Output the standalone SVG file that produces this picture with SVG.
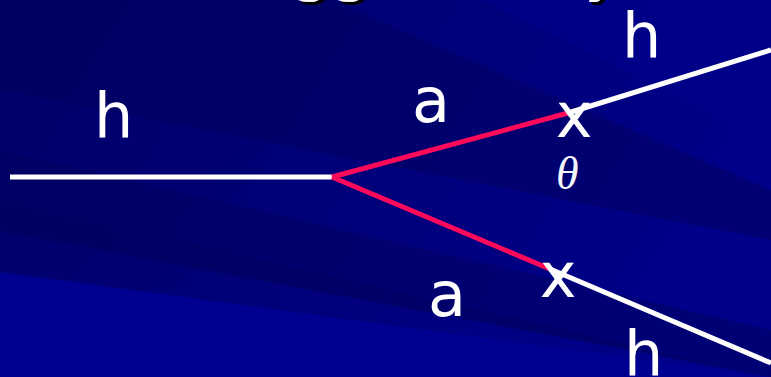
<svg xmlns="http://www.w3.org/2000/svg" width="771" height="377" viewBox="0 0 771 377">
<defs>
<style>
.lbl{font-family:"DejaVu Sans",Verdana,sans-serif;font-size:62px;fill:#ffffff}
.ttl{font-family:"DejaVu Sans",Verdana,sans-serif;font-size:63px;fill:#ffffff}
.th{font-family:"Liberation Serif","DejaVu Serif",serif;font-style:italic;font-size:46px;fill:#f4f4ff}
.w{stroke:#ffffff;stroke-width:5;fill:none}
.r{stroke:#ff0a5a;stroke-width:5;fill:none}
</style>
<filter id="sh" x="-10%" y="-10%" width="120%" height="140%">
<feDropShadow dx="3" dy="3" stdDeviation="0" flood-color="#000000" flood-opacity="1"/>
</filter>
<linearGradient id="bg" x1="0" y1="0" x2="1" y2="0.3">
<stop offset="0" stop-color="#000068"/>
<stop offset="1" stop-color="#000088"/>
</linearGradient>
</defs>
<g id="background">
<rect x="0" y="0" width="771" height="377" fill="url(#bg)"/>
<polygon points="0,0 330,0 771,190 771,240 0,90" fill="#000058" opacity="0.4"/>
<polygon points="0,150 771,330 771,377 0,230" fill="#00005a" opacity="0.4"/>
<polygon points="0,272 771,377 0,377" fill="#000090"/>
<polygon points="0,200 771,377 771,377 0,232" fill="#000060" opacity="0.4"/>
<polygon points="480,0 771,0 771,140" fill="#00008a" opacity="0.7"/>
</g>
<g id="title">
<text class="ttl" x="226" y="-11" filter="url(#sh)">Higgs Decay</text>
</g>
<g id="connectors">
<line class="w" x1="10" y1="177" x2="332" y2="177"/>
<line class="r" x1="332" y1="177" x2="568" y2="113"/>
<line class="r" x1="332" y1="177" x2="550" y2="269"/>
<line class="w" x1="568" y1="113" x2="771" y2="50"/>
<line class="w" x1="550" y1="269" x2="771" y2="363"/>
</g>
<g id="node-h-in"><text class="lbl" x="94" y="137">h</text></g>
<g id="node-a-up"><text class="lbl" x="412" y="122">a</text></g>
<g id="node-a-down"><text class="lbl" x="428" y="316">a</text></g>
<g id="node-x-up"><text class="lbl" x="574" y="137" text-anchor="middle">x</text></g>
<g id="node-x-down"><text class="lbl" x="558" y="297" text-anchor="middle">x</text></g>
<g id="node-theta"><text class="th" x="556" y="189">θ</text></g>
<g id="node-h-up"><text class="lbl" x="622" y="57">h</text></g>
<g id="node-h-down"><text class="lbl" x="624" y="375">h</text></g>
</svg>
